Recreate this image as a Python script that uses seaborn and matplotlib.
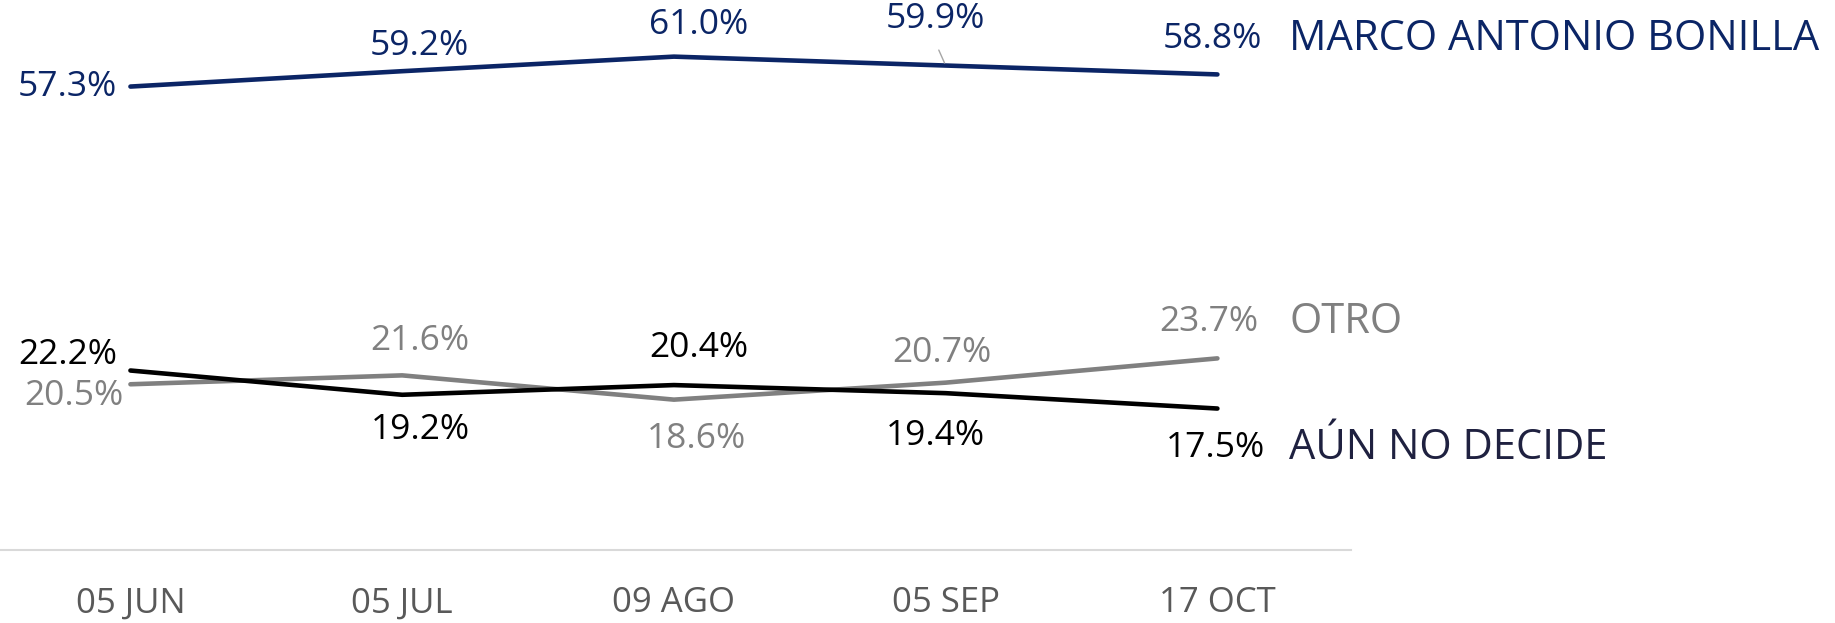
import pandas as pd
import matplotlib
matplotlib.use("Agg")
import matplotlib.pyplot as plt
import seaborn as sns

fechas = ["05 JUN", "05 JUL", "09 AGO", "05 SEP", "17 OCT"]
marco = [57.3, 59.2, 61.0, 59.9, 58.8]
otro = [20.5, 21.6, 18.6, 20.7, 23.7]
aun_no_decide = [22.2, 19.2, 20.4, 19.4, 17.5]
series_names = ["MARCO ANTONIO BONILLA", "OTRO", "AÚN NO DECIDE"]

line_colors = ["#0b2566", "#808080", "#000000"]
name_colors = ["#0b2566", "#808080", "#1f2140"]

df = pd.DataFrame({
    "fecha": fechas * 3,
    "valor": marco + otro + aun_no_decide,
    "serie": [s for s in series_names for _ in fechas],
})

sns.set_style("white")
plt.rcParams["font.family"] = ["Open Sans", "DejaVu Sans"]

fig = plt.figure(figsize=(18.35, 6.23), dpi=100)
ax = fig.add_axes([0.0, 0.117, 0.736, 0.883])

sns.lineplot(data=df, x="fecha", y="valor", hue="serie", palette=line_colors,
             hue_order=series_names, sort=False, linewidth=3.3, legend=False, ax=ax)

ax.set_xlim(-0.48, 4.49)
ax.set_ylim(0, 68)
ax.set_xlabel("")
ax.set_ylabel("")
ax.set_yticks([])
for s in ["top", "right", "left"]:
    ax.spines[s].set_visible(False)
ax.spines["bottom"].set_color("#d9d9d9")
ax.spines["bottom"].set_linewidth(1.5)
ax.tick_params(axis="x", length=0, pad=26, labelsize=25, labelcolor="#595959")

# label offsets in pixels (label anchor relative to the point)
offsets = [
    [(-13, 0, "right"), (17, 25, "center"), (25, 32, "center"), (-10, 47, "center"), (-5, 35, "center")],
    [(-7, -12, "right"), (18, 34, "center"), (23, -39, "center"), (-4, 30, "center"), (-9, 36, "center")],
    [(-13, 16, "right"), (18, -35, "center"), (25, 37, "center"), (-10, -43, "center"), (-2, -39, "center")],
]
all_vals = [marco, otro, aun_no_decide]
for k, vals in enumerate(all_vals):
    for i, v in enumerate(vals):
        dx, dy, ha = offsets[k][i]
        ax.annotate(f"{v:.1f}%", (i, v), xytext=(dx, dy), textcoords="offset pixels",
                    ha=ha, va="center", fontsize=25.5, color=line_colors[k])
    name_dy = [35, 36, -39][k]
    ax.annotate(series_names[k], (len(vals) - 1, vals[-1]), xytext=(72, name_dy),
                textcoords="offset pixels", ha="left", va="center", fontsize=30,
                color=name_colors[k], annotation_clip=False)

# leader line for 59.9%
ax.annotate("", (3, marco[3]), xytext=(-8, 18), textcoords="offset pixels",
            arrowprops=dict(arrowstyle="-", color="#a6a6a6", lw=1))

fig.savefig("out.png", dpi=100)
